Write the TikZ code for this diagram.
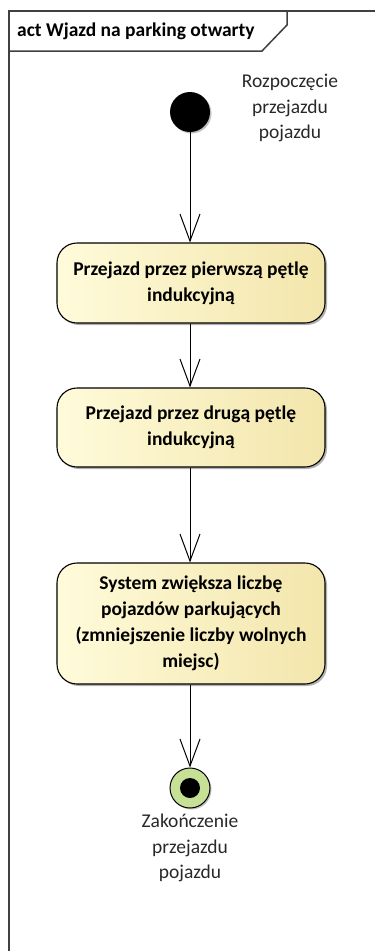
\documentclass[tikz,border=0pt]{standalone}
\usepackage{fontspec}
\setmainfont{Carlito}
\usetikzlibrary{arrows.meta,shadows}
\definecolor{framegray}{RGB}{64,64,64}
\definecolor{actleft}{RGB}{255,251,218}
\definecolor{actright}{RGB}{243,230,172}
\definecolor{finalgreen}{RGB}{198,224,150}
\definecolor{labeltext}{RGB}{40,40,40}
\begin{document}
\begin{tikzpicture}[x=1pt,y=-1pt,
  action/.style={draw=black, line width=1.1pt, rounded corners=20pt,
    minimum width=268pt, inner sep=0pt, align=center,
    font=\bfseries\fontsize{19.5}{26}\selectfont,
    left color=actleft, right color=actright,
    drop shadow={shadow xshift=2pt, shadow yshift=-2pt, opacity=0.3, fill=black}},
  flow/.style={draw=black, line width=1pt,
    -{Straight Barb[length=27pt, width=20pt, line width=1pt]}},
  lbl/.style={align=center, inner sep=0pt,
    font=\fontsize{19.5}{25.5}\selectfont, text=labeltext},
  frameline/.style={draw=framegray, line width=2pt}
]
\useasboundingbox (0,0) rectangle (375,951);
\clip (0,0) rectangle (375,951);

% diagram frame and its name tab
\draw[frameline] (9,970) -- (9,11) -- (400,11);
\draw[framegray, line width=1.5pt] (9,51) -- (262,51) -- (287,25) -- (287,11);
\node[anchor=west, inner sep=0pt, font=\bfseries\fontsize{19.5}{25}\selectfont] (title) at (17,31) {act Wjazd na parking otwarty};

% initial node
\node[circle, fill=black, minimum size=40pt, inner sep=0pt,
  drop shadow={shadow xshift=1.5pt, shadow yshift=-1.5pt, opacity=0.25, fill=black}] (start) at (190,112) {};
\node[lbl] (startlbl) at (290,108) {Rozpoczęcie\\przejazdu\\pojazdu};

% actions
\node[action, minimum height=80pt] (a1) at (191,283) {Przejazd przez pierwszą pętlę\\indukcyjną};
\node[action, minimum height=79pt] (a2) at (191,427.5) {Przejazd przez drugą pętlę\\indukcyjną};
\node[action, minimum height=121pt] (a3) at (191,623.5) {System zwiększa liczbę\\pojazdów parkujących\\(zmniejszenie liczby wolnych\\miejsc)};

% final node
\node[circle, draw=black, line width=1pt, fill=finalgreen, minimum size=40pt, inner sep=0pt,
  drop shadow={shadow xshift=1.5pt, shadow yshift=-1.5pt, opacity=0.25, fill=black}] (end) at (190,788) {};
\node[circle, fill=black, minimum size=20pt, inner sep=0pt] (endcore) at (end.center) {};
\node[lbl] (endlbl) at (190,848) {Zakończenie\\przejazdu\\pojazdu};

% control flows
\draw[flow] (start.south) -- (start.south |- a1.north);
\draw[flow] (a1.south -| start) -- (a2.north -| start);
\draw[flow] (a2.south -| start) -- (a3.north -| start);
\draw[flow] (a3.south -| start) -- (end.north);
\end{tikzpicture}
\end{document}
